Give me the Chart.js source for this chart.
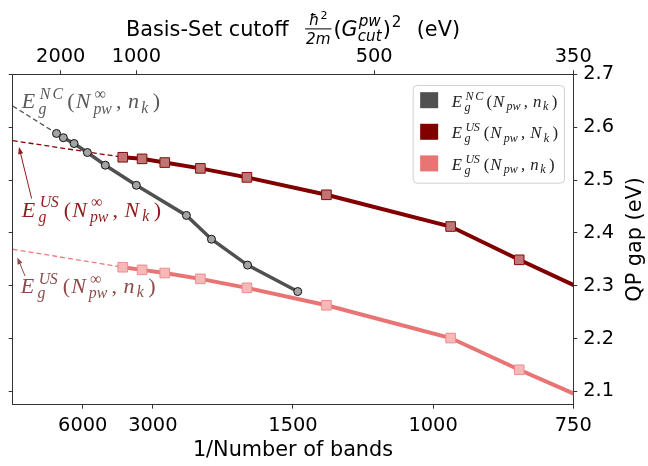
<!DOCTYPE html>
<html>
<head>
<meta charset="utf-8">
<script src="https://cdn.jsdelivr.net/npm/chart.js@4.4.0/dist/chart.umd.min.js"></script>
<style>
  html, body { margin: 0; padding: 0; background: #fff; }
  #wrap { width: 648px; height: 466px; }
</style>
</head>
<body>
<div id="wrap"><canvas id="gapChart"></canvas></div>
<script>
// x axis is 1/N (N = number of bands)
const ncBands = [9600, 8300, 6850, 5630, 4540, 3400, 2420, 2115, 1790, 1475];
const ncGap = [2.588, 2.580, 2.569, 2.552, 2.528, 2.490, 2.433, 2.388, 2.339, 2.289];

const usBands = [3820, 3250, 2765, 2240, 1795, 1340, 960, 830, 650];
const usGapNk = [2.543, 2.540, 2.533, 2.522, 2.505, 2.472, 2.412, 2.349, 2.226];
const usGapnk = [2.335, 2.330, 2.324, 2.313, 2.296, 2.263, 2.201, 2.141, 2.025];

// extrapolated gaps for N_pw -> infinity (1/N = 0)
const ncInf = 2.640;
const usNkInf = 2.5745;
const usnkInf = 2.369;

const bottomTickBands = [6000, 3000, 1500, 1000, 750];
const topTickBands = [8750, 3400, 1163, 750];
const topTickCutoffs = [2000, 1000, 500, 350];
const gapTicks = [2.1, 2.2, 2.3, 2.4, 2.5, 2.6, 2.7];

const pts = (bands, vals) => bands.map((n, i) => ({ x: 1 / n, y: vals[i] }));
const fit = (inf, n, v) => [{ x: 0, y: inf }, { x: 1 / n, y: v }];

const GREY = '#505050', MAROON = '#800000', CORAL = '#e97474';

// --- little math-text helper (TeX-ish layout) ---
const CMW = { E: .764, N: .803, U: .683, S: .613, C: .715, g: .477, p: .503, w: .716,
              k: .521, n: .6, '(': .389, ')': .389, ',': .278, '\u221e': 1.0, ' ': .27 };
function drawStr(ctx, s, x, y, size) {
  for (const ch of s) {
    const it = /[A-Za-z]/.test(ch);
    ctx.font = (it ? 'italic ' : '') + size + 'px "Liberation Serif"';
    ctx.fillText(ch, x, y);
    x += (CMW[ch] || 0.5) * size;
  }
  return x;
}
function drawMath(ctx, toks, x, y, size, color) {
  ctx.save();
  ctx.fillStyle = color;
  ctx.textAlign = 'left';
  ctx.textBaseline = 'alphabetic';
  const ss = size * 0.72;
  for (const t of toks) {
    x = drawStr(ctx, t.b, x, y, size);
    if (t.sup || t.sub) {
      const w1 = t.sup ? drawStr(ctx, t.sup, x + size * 0.06, y - size * (t.sub ? 0.42 : 0.4), ss) - x : 0;
      const w2 = t.sub ? drawStr(ctx, t.sub, x, y + size * (t.sup ? 0.25 : 0.2), ss) - x : 0;
      x += Math.max(w1, w2) + size * 0.15;
    }
  }
  ctx.restore();
  return x;
}
const tokNCinf = [{ b: 'E', sup: 'NC', sub: 'g' }, { b: '(' }, { b: 'N', sup: '\u221e', sub: 'pw' }, { b: ', ' }, { b: 'n', sub: 'k' }, { b: ')' }];
const tokUSNinf = [{ b: 'E', sup: 'US', sub: 'g' }, { b: '(' }, { b: 'N', sup: '\u221e', sub: 'pw' }, { b: ', ' }, { b: 'N', sub: 'k' }, { b: ')' }];
const tokUSninf = [{ b: 'E', sup: 'US', sub: 'g' }, { b: '(' }, { b: 'N', sup: '\u221e', sub: 'pw' }, { b: ', ' }, { b: 'n', sub: 'k' }, { b: ')' }];
const tokNC = [{ b: 'E', sup: 'NC', sub: 'g' }, { b: '(' }, { b: 'N', sub: 'pw' }, { b: ', ' }, { b: 'n', sub: 'k' }, { b: ')' }];
const tokUSN = [{ b: 'E', sup: 'US', sub: 'g' }, { b: '(' }, { b: 'N', sub: 'pw' }, { b: ', ' }, { b: 'N', sub: 'k' }, { b: ')' }];
const tokUSn = [{ b: 'E', sup: 'US', sub: 'g' }, { b: '(' }, { b: 'N', sub: 'pw' }, { b: ', ' }, { b: 'n', sub: 'k' }, { b: ')' }];

function arrow(ctx, x1, y1, x2, y2, color) {
  const a = Math.atan2(y2 - y1, x2 - x1), L = 7, W = 2.6;
  ctx.save();
  ctx.strokeStyle = color; ctx.fillStyle = color; ctx.lineWidth = 1;
  ctx.beginPath(); ctx.moveTo(x1, y1);
  ctx.lineTo(x2 - L * 0.8 * Math.cos(a), y2 - L * 0.8 * Math.sin(a)); ctx.stroke();
  ctx.beginPath(); ctx.moveTo(x2, y2);
  ctx.lineTo(x2 - L * Math.cos(a) - W * Math.sin(a), y2 - L * Math.sin(a) + W * Math.cos(a));
  ctx.lineTo(x2 - L * Math.cos(a) + W * Math.sin(a), y2 - L * Math.sin(a) - W * Math.cos(a));
  ctx.closePath(); ctx.fill();
  ctx.restore();
}

const decorations = {
  id: 'decorations',
  afterDraw(chart) {
    const ctx = chart.ctx, area = chart.chartArea;
    const xs = chart.scales.x, ys = chart.scales.y;
    const px = v => xs.getPixelForValue(v), py = v => ys.getPixelForValue(v);

    // annotations next to the extrapolated values
    drawMath(ctx, tokNCinf, px(2.14e-5), py(2.6354), 22, '#5a5a5a');
    drawMath(ctx, tokUSNinf, px(2.14e-5), py(2.4306), 22, '#901c1c');
    drawMath(ctx, tokUSninf, px(1.9e-5), py(2.2867), 22, '#8e4a4a');
    arrow(ctx, px(4.5e-5), py(2.465), px(1.5e-5), py(2.5624), '#901c1c');
    arrow(ctx, px(2.93e-5), py(2.3184), px(1.1e-5), py(2.3536), '#8e4a4a');

    // legend
    const bx = area.right - 160.6, by = area.top + 10.7, bw = 151.3, bh = 97.7;
    ctx.save();
    ctx.beginPath();
    ctx.roundRect(bx + 0.5, by + 0.5, bw, bh, 4);
    ctx.fillStyle = 'rgba(255,255,255,0.8)'; ctx.fill();
    ctx.strokeStyle = '#d0d0d0'; ctx.lineWidth = 1; ctx.stroke();
    const items = [[GREY, tokNC], [MAROON, tokUSN], [CORAL, tokUSn]];
    items.forEach(([c, tk], i) => {
      const cy = by + 15.2 + i * 31.6;
      ctx.fillStyle = c;
      ctx.fillRect(bx + 7.5, cy - 8, 18, 16);
      drawMath(ctx, tk, bx + 39, cy + 6.5, 16.8, '#222');
    });
    ctx.restore();

    // top axis title with math
    ctx.save();
    ctx.fillStyle = '#000';
    ctx.textBaseline = 'alphabetic'; ctx.textAlign = 'left';
    const big = 20.8, sm = 15.2, base = 36;
    const sans = '"DejaVu Sans"';
    ctx.font = big + 'px ' + sans;
    const wA = ctx.measureText('Basis-Set cutoff').width;
    const wSp = ctx.measureText(' ').width;
    const wE = ctx.measureText('(eV)').width;
    const wP = ctx.measureText('(').width;
    ctx.font = 'italic ' + big + 'px ' + sans;
    const wG = ctx.measureText('G').width;
    ctx.font = 'italic ' + sm + 'px ' + sans;
    const wHb = ctx.measureText('\u0127').width;
    const wDen = ctx.measureText('2m').width;
    const wPw = ctx.measureText('pw').width, wCut = ctx.measureText('cut').width;
    ctx.font = '11px ' + sans;
    const w2s = ctx.measureText('2').width;
    const wNum = wHb + w2s + 1;
    const wFrac = Math.max(wNum, wDen) + 2;
    const gap1 = 2.5 * wSp, gap2 = 2.4 * wSp;
    const total = wA + gap1 + wFrac + 2 + wP + wG + Math.max(wPw, wCut) + 1 + wP + 1 + w2s * 1.3 + gap2 + wE;
    let x = (area.left + area.right) / 2 - total / 2;
    ctx.font = big + 'px ' + sans;
    ctx.fillText('Basis-Set cutoff', x, base);
    x += wA + gap1;
    // fraction hbar^2 / 2m
    const fx = x;
    ctx.font = 'italic ' + sm + 'px ' + sans;
    ctx.fillText('\u0127', fx + (wFrac - wNum) / 2, base - 11);
    ctx.font = '11px ' + sans;
    ctx.fillText('2', fx + (wFrac - wNum) / 2 + wHb + 1, base - 17.5);
    ctx.font = 'italic ' + sm + 'px ' + sans;
    ctx.fillText('2m', fx + (wFrac - wDen) / 2, base + 7.5);
    ctx.fillRect(fx, base - 7.6, wFrac, 1);
    x += wFrac + 2;
    ctx.font = big + 'px ' + sans;
    ctx.fillText('(', x, base); x += wP;
    ctx.font = 'italic ' + big + 'px ' + sans;
    ctx.fillText('G', x, base); x += wG;
    ctx.font = 'italic ' + sm + 'px ' + sans;
    ctx.fillText('pw', x + 1, base - 10);
    ctx.fillText('cut', x, base + 5);
    x += Math.max(wPw, wCut) + 1;
    ctx.font = big + 'px ' + sans;
    ctx.fillText(')', x, base); x += wP + 1;
    ctx.font = sm + 'px ' + sans;
    ctx.fillText('2', x, base - 9); x += w2s * 1.3 + gap2;
    ctx.font = big + 'px ' + sans;
    ctx.fillText('(eV)', x, base);

    // right axis title, reads bottom to top
    ctx.translate(636, (area.top + area.bottom) / 2);
    ctx.rotate(-Math.PI / 2);
    ctx.textAlign = 'center'; ctx.textBaseline = 'middle';
    ctx.font = big + 'px ' + sans;
    ctx.fillText('QP gap (eV)', 0, 0);
    ctx.restore();
  }
};

Chart.defaults.font.family = '"DejaVu Sans"';
Chart.defaults.color = '#000';

const tickFont = { size: 19.4, family: '"DejaVu Sans"' };
const axisGrid = { drawOnChartArea: false, tickLength: 4, tickColor: '#333', tickWidth: 1 };
const axisBorder = { color: '#333', width: 1 };

new Chart(document.getElementById('gapChart'), {
  type: 'line',
  data: {
    datasets: [
      { label: 'E_g^NC(N_pw, n_k)', data: pts(ncBands, ncGap), borderColor: GREY, borderWidth: 3.5,
        pointStyle: 'circle', pointRadius: 4, pointBackgroundColor: '#a3a3a3', pointBorderColor: '#111', pointBorderWidth: 1 },
      { label: 'E_g^US(N_pw, N_k)', data: pts(usBands, usGapNk), borderColor: MAROON, borderWidth: 4,
        pointStyle: 'rect', pointRadius: usBands.map(n => n < 750 ? 0 : 6.8),
        pointBackgroundColor: '#bf7676', pointBorderColor: '#8a0a0a', pointBorderWidth: 1 },
      { label: 'E_g^US(N_pw, n_k)', data: pts(usBands, usGapnk), borderColor: CORAL, borderWidth: 4,
        pointStyle: 'rect', pointRadius: usBands.map(n => n < 750 ? 0 : 6.8),
        pointBackgroundColor: '#f6b8b8', pointBorderColor: '#ee8e8e', pointBorderWidth: 1 },
      { label: 'NC fit', data: fit(ncInf, ncBands[0], ncGap[0]), borderColor: '#555', borderWidth: 1.3,
        borderDash: [5, 3], pointRadius: 0 },
      { label: 'US Nk fit', data: fit(usNkInf, usBands[0], usGapNk[0]), borderColor: '#8b0000', borderWidth: 1.3,
        borderDash: [5, 3], pointRadius: 0 },
      { label: 'US nk fit', data: fit(usnkInf, usBands[0], usGapnk[0]), borderColor: '#f07c7c', borderWidth: 1.3,
        borderDash: [5, 3], pointRadius: 0 }
    ]
  },
  options: {
    responsive: true,
    maintainAspectRatio: false,
    animation: false,
    layout: { autoPadding: false, padding: { left: 8.7, right: 27.9, top: 43, bottom: 0 } },
    plugins: { legend: { display: false }, tooltip: { enabled: false } },
    elements: { line: { tension: 0 } },
    scales: {
      x: {
        type: 'linear', position: 'bottom', min: 0, max: 1 / 750,
        afterBuildTicks: s => { s.ticks = bottomTickBands.map(n => ({ value: 1 / n })); },
        ticks: { callback: v => String(Math.round(1 / v)), font: tickFont, padding: 6, maxRotation: 0, autoSkip: false },
        grid: axisGrid, border: axisBorder,
        title: { display: true, text: '1/Number of bands', font: { size: 20.8 }, padding: { top: -5.9, bottom: 3 } }
      },
      xTop: {
        type: 'linear', position: 'top', min: 0, max: 1 / 750,
        afterBuildTicks: s => { s.ticks = topTickBands.map(n => ({ value: 1 / n })); },
        ticks: { callback: (v, i) => String(topTickCutoffs[i]), font: tickFont, padding: 2, maxRotation: 0, autoSkip: false },
        grid: axisGrid, border: axisBorder
      },
      y: {
        type: 'linear', position: 'right', min: 2.075, max: 2.7,
        afterBuildTicks: s => { s.ticks = gapTicks.map(v => ({ value: v })); },
        ticks: { callback: v => v.toFixed(1), font: tickFont, padding: 6 },
        grid: axisGrid, border: axisBorder
      },
      yLeft: {
        type: 'linear', position: 'left', min: 2.075, max: 2.7,
        afterBuildTicks: s => { s.ticks = gapTicks.map(v => ({ value: v })); },
        ticks: { display: false },
        grid: axisGrid, border: axisBorder
      }
    }
  },
  plugins: [decorations]
});
</script>
</body>
</html>
